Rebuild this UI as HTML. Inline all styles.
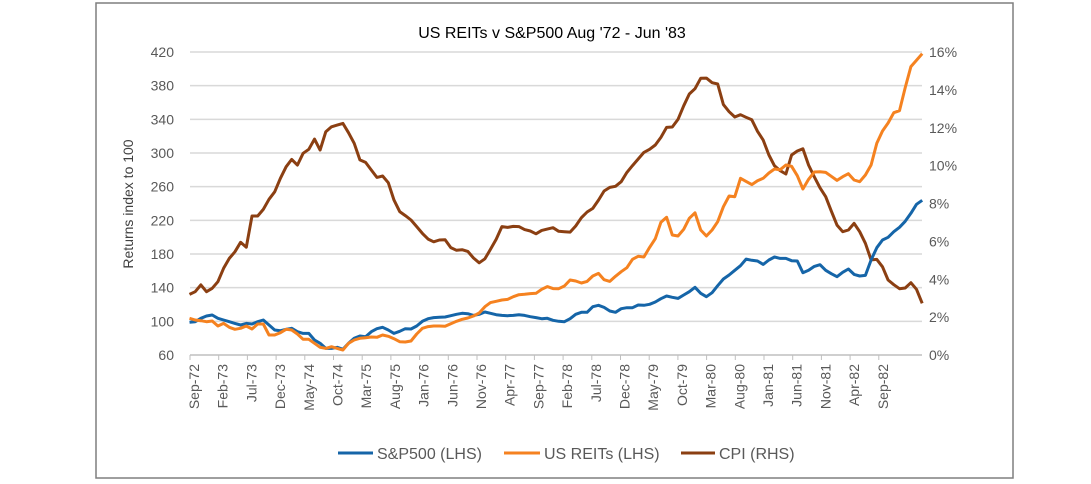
<!DOCTYPE html>
<html><head><meta charset="utf-8"><style>
html,body{margin:0;padding:0;background:#fff;}
svg{display:block;font-family:"Liberation Sans",sans-serif;}
</style></head><body>
<svg id="chart" width="1091" height="484" viewBox="0 0 1091 484">
<rect x="96" y="3" width="917" height="475" fill="#fff" stroke="#7f7f7f" stroke-width="1.5"/>
<text x="552" y="38" text-anchor="middle" font-size="16" fill="#000">US REITs v S&amp;P500 Aug '72 - Jun '83</text>
<text transform="translate(133,204) rotate(-90)" text-anchor="middle" font-size="14" fill="#404040">Returns index to 100</text>
<g id="grid"></g><g id="axes"></g><g id="series"></g>
<g>
<line x1="338" y1="453" x2="373" y2="453" stroke="#1565a8" stroke-width="3"/>
<text x="377" y="459" font-size="16" fill="#595959">S&amp;P500 (LHS)</text>
<line x1="504" y1="453" x2="540" y2="453" stroke="#f58220" stroke-width="3"/>
<text x="544" y="459" font-size="16" fill="#595959">US REITs (LHS)</text>
<line x1="681" y1="453" x2="715" y2="453" stroke="#8b3f12" stroke-width="3"/>
<text x="719" y="459" font-size="16" fill="#595959">CPI (RHS)</text>
</g>
</svg>
<script>
const leftTicks=[60,100,140,180,220,260,300,340,380,420];
const rightTicks=[0,2,4,6,8,10,12,14,16];
const xLabels=["Sep-72","Feb-73","Jul-73","Dec-73","May-74","Oct-74","Mar-75","Aug-75","Jan-76","Jun-76","Nov-76","Apr-77","Sep-77","Feb-78","Jul-78","Dec-78","May-79","Oct-79","Mar-80","Aug-80","Jan-81","Jun-81","Nov-81","Apr-82","Sep-82"];
const sp500=[98.8,99.6,103.6,106.3,107.5,103.6,101.6,99.6,97.6,95.6,97.6,96.8,99.6,101.6,95.6,89.7,88.9,90.5,91.7,87.7,85.7,85.7,77.8,73.9,67.9,67.9,69.1,66.8,73.9,79.8,82.6,
81.8,87.7,91.3,92.9,89.7,85.7,88.1,91.3,90.9,94.5,100,103.1,104.4,104.8,105.1,106.7,108.3,109.5,109.1,107.1,108.3,111.1,109.5,107.9,107.1,106.7,107.1,107.9,107.1,105.5,104.4,103.1,103.6,101.2,
100,99.6,103.1,108.3,110.7,110.7,117.4,119,116.6,112.3,110.7,115,116.2,116.2,119.4,119,120.2,123,126.9,130.1,128.5,127.3,131.3,135.2,140.4,133.3,129.3,134,142.3,150.3,155,160.6,
166.1,174,172.5,171.7,167.7,172.9,176.4,174.8,174.8,172,171.7,157.8,160.6,165.3,167.3,160.6,156.6,153,158.2,162.2,155.8,153.9,154.6,172.9,187.5,196.6,199.8,206.5,211.7,218.8,228.3,239,243.8];
const reits=[103.6,101.6,100.8,99.6,100.4,94.5,97.6,92.9,90.5,91.7,94.5,90.9,96.8,96.8,83.8,83.8,86.5,90.5,89.7,85,78.6,78.6,73.9,69.1,67.9,69.9,67.9,65.9,73.9,77.8,79.8,
80.6,81.4,81.0,83.8,82.2,79.4,75.8,75.4,76.6,85,91.7,93.7,94.5,94.5,94.1,97.2,100,102.4,104,106.3,109.9,117.4,122.2,123.8,125.3,126.1,129.3,131.7,132.1,132.9,133.3,138.1,141.3,138.9,
138.8,142,149.1,147.9,145.5,147.5,153.9,157,149.5,147.5,153.5,159,163.7,173.7,177.3,176.4,187.9,198.2,217.7,223.6,202.6,201.4,209.3,222.4,229,208.5,201.4,208.5,218.4,236.2,248.9,248.1,
270,266.3,262.4,267.1,270,276.2,281,280.2,285.7,284.2,273,257.2,268.7,277.4,277.8,277,272.3,267.5,271.8,275.4,267.9,265.9,273.9,285.7,311.5,326.1,335.6,347.9,350.3,377.6,402.6,410.1,418];
const cpi=[3.2,3.34,3.7,3.34,3.52,3.87,4.58,5.1,5.45,5.95,5.69,7.34,7.34,7.69,8.22,8.62,9.33,9.94,10.33,10.03,10.65,10.86,11.4,10.82,11.79,12.05,12.14,12.23,11.74,11.18,10.3,
10.17,9.77,9.38,9.45,9.1,8.18,7.57,7.36,7.13,6.78,6.42,6.12,5.98,6.07,6.09,5.67,5.53,5.56,5.47,5.12,4.87,5.08,5.58,6.11,6.78,6.74,6.79,6.78,6.62,6.55,6.4,6.58,6.65,6.72,
6.53,6.51,6.49,6.81,7.25,7.55,7.74,8.18,8.66,8.85,8.91,9.15,9.64,10.0,10.35,10.7,10.86,11.09,11.49,12.02,12.04,12.44,13.16,13.78,14.06,14.61,14.62,14.38,14.31,13.22,12.85,12.57,
12.69,12.55,12.42,11.81,11.35,10.56,9.99,9.73,9.56,10.56,10.77,10.89,10.03,9.41,8.83,8.36,7.6,6.86,6.51,6.6,6.95,6.51,5.9,5.02,5.05,4.66,3.96,3.71,3.5,3.54,3.82,3.47,2.73];

const NS="http://www.w3.org/2000/svg";
const X0=189.5, DX=5.68, YB=355, YT=52, PL=183, PR=922;
const LX0=194, LDX=28.7;
function xs(i){return X0+i*DX;}
function yl(v){return YB-(v-60)/360*(YB-YT);}
function yr(v){return YB-v/16*(YB-YT);}
function mk(tag,attrs,parent){const e=document.createElementNS(NS,tag);for(const k in attrs)e.setAttribute(k,attrs[k]);parent.appendChild(e);return e;}
const grid=document.getElementById('grid'),axes=document.getElementById('axes'),ser=document.getElementById('series');
leftTicks.forEach(v=>{
  if(v>60){const g=mk('line',{x1:PL+7,x2:PR,y1:yl(v),y2:yl(v),stroke:'#d9d9d9','stroke-width':1.5},grid);
  
  }
  const t=mk('text',{x:174,y:yl(v)+5,'text-anchor':'end','font-size':14,fill:'#595959'},axes);
  t.textContent=v;
  
  
});
rightTicks.forEach(v=>{
  const t=mk('text',{x:929,y:yr(v)+5,'font-size':14,fill:'#595959'},axes);
  t.textContent=v+'%';
  
  
});
const ax=mk('line',{x1:PL+7,x2:PR,y1:YB,y2:YB,stroke:'#bfbfbf','stroke-width':1.5},axes);


xLabels.forEach((l,k)=>{
  const x=LX0+k*LDX;
  const tk=mk('line',{x1:x-4,x2:x-4,y1:YB,y2:YB+5,stroke:'#bfbfbf'},axes);
  
  
  const t=mk('text',{transform:`translate(${x+5},364) rotate(-90)`,'text-anchor':'end','font-size':14,fill:'#595959'},axes);
  t.textContent=l;
  
  
});
function line(arr,yf,color,name){
  const d=arr.map((v,i)=>(i?'L':'M')+xs(i).toFixed(1)+' '+yf(v).toFixed(1)).join(' ');
  const p=mk('path',{d:d,fill:'none',stroke:color,'stroke-width':3,'stroke-linejoin':'round'},ser);
  
  
}
line(cpi,yr,'#8b3f12','cpi-line');
line(sp500,yl,'#1565a8','sp500-line');
line(reits,yl,'#f58220','reits-line');
</script>
</body></html>
